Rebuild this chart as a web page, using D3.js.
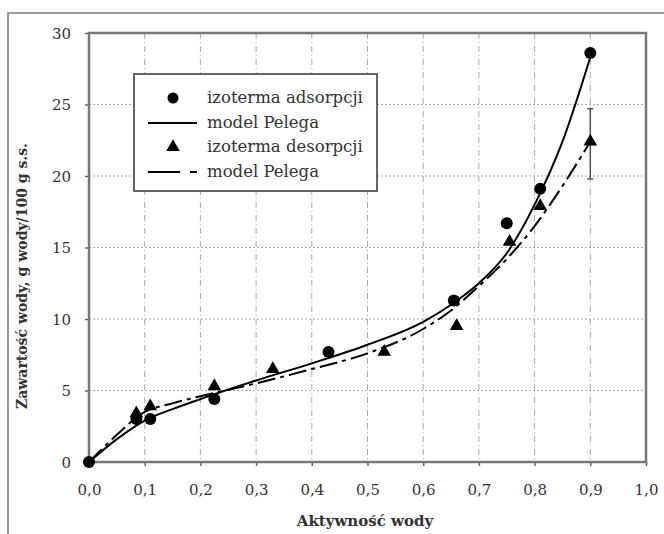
<!DOCTYPE html>
<html>
<head>
<meta charset="utf-8">
<script src="https://cdn.jsdelivr.net/npm/d3@7"></script>
<style>
  body { margin: 0; background: #fff; }
  svg { display: block; }
  text { font-family: "DejaVu Serif", "Liberation Serif", serif; fill: #333; }
</style>
</head>
<body>
<svg id="chart"></svg>
<script>
// punkty pomiarowe
let adsX = [0, 0.085, 0.11, 0.225, 0.43, 0.655, 0.75, 0.81, 0.9]
let adsY = [0, 3.0, 3.0, 4.4, 7.7, 11.3, 16.7, 19.1, 28.6]
let desX = [0.085, 0.11, 0.225, 0.33, 0.53, 0.66, 0.755, 0.81, 0.9]
let desY = [3.4, 3.9, 5.3, 6.5, 7.7, 9.5, 15.4, 17.9, 22.4]
let desErr = [19.8, 24.7] // slupek bledu dla 0,9
// model Pelega
let modelX = [0, 0.05, 0.1, 0.15, 0.2, 0.3, 0.4, 0.5, 0.6, 0.65, 0.7, 0.75, 0.8, 0.85, 0.9]
let adsModel = [0, 1.6, 2.9, 3.7, 4.4, 5.7, 6.9, 8.2, 9.8, 11.0, 12.5, 14.6, 18.0, 22.4, 28.3]
let desModel = [0, 1.9, 3.5, 4.1, 4.6, 5.5, 6.5, 7.6, 9.3, 10.6, 12.3, 14.2, 16.5, 19.3, 22.4]
let xTicks = [0, 0.1, 0.2, 0.3, 0.4, 0.5, 0.6, 0.7, 0.8, 0.9, 1.0]
let yTicks = [0, 5, 10, 15, 20, 25, 30]
let legendLabels = ['izoterma adsorpcji', 'model Pelega', 'izoterma desorpcji', 'model Pelega']

let width = 664
let height = 534
let svg = d3.select('#chart')
  .attr('width', width)
  .attr('height', height)

// ramka zewnetrzna
svg.append('path')
  .attr('d', `M8,${height} L8,13 L${width},13`)
  .attr('fill', 'none')
  .attr('stroke', '#777')
  .attr('stroke-width', 1.5)

let x = d3.scaleLinear().domain([0, 1]).range([89, 646])
let y = d3.scaleLinear().domain([0, 30]).range([462, 33])

// siatka
svg.append('g')
  .selectAll('line')
  .data(xTicks.slice(1, -1))
  .enter()
  .append('line')
  .attr('x1', (d) => x(d)).attr('x2', (d) => x(d))
  .attr('y1', y(30)).attr('y2', y(0))
  .attr('stroke', '#aaa')
  .attr('stroke-width', 1)
  .attr('stroke-dasharray', '6,3,1,3')
svg.append('g')
  .selectAll('line')
  .data(yTicks.slice(1, -1))
  .enter()
  .append('line')
  .attr('x1', x(0)).attr('x2', x(1))
  .attr('y1', (d) => y(d)).attr('y2', (d) => y(d))
  .attr('stroke', '#aaa')
  .attr('stroke-width', 1.2)
  .attr('stroke-dasharray', '2,2')

// osie
let xAxis = svg.append('g')
  .attr('transform', `translate(0,${y(0)})`)
  .call(d3.axisBottom(x).tickValues(xTicks).tickSize(4).tickPadding(14)
    .tickFormat((d) => d3.format('.1f')(d).replace('.', ',')))
let yAxis = svg.append('g')
  .attr('transform', `translate(${x(0)},0)`)
  .call(d3.axisLeft(y).tickValues(yTicks).tickSize(4).tickPadding(14))
for (let ax of [xAxis, yAxis]) {
  ax.select('.domain').remove()
  ax.selectAll('line').attr('stroke', '#666').attr('stroke-width', 1.5)
  ax.selectAll('text').attr('font-size', 15).attr('fill', '#444')
    .style('font-family', '"DejaVu Serif", serif')
}
xAxis.selectAll('text').attr('dy', '1em')
yAxis.selectAll('text').attr('dy', '0.35em')

// ramka wykresu
svg.append('rect')
  .attr('x', x(0)).attr('y', y(30))
  .attr('width', x(1) - x(0)).attr('height', y(0) - y(30))
  .attr('fill', 'none')
  .attr('stroke', '#777')
  .attr('stroke-width', 2.5)

// krzywe modelu
let line = d3.line()
  .x((d) => x(d[0]))
  .y((d) => y(d[1]))
  .curve(d3.curveMonotoneX)
svg.append('path')
  .datum(d3.zip(modelX, adsModel))
  .attr('d', line)
  .attr('fill', 'none')
  .attr('stroke', '#000')
  .attr('stroke-width', 2)
svg.append('path')
  .datum(d3.zip(modelX, desModel))
  .attr('d', line)
  .attr('fill', 'none')
  .attr('stroke', '#000')
  .attr('stroke-width', 2)
  .attr('stroke-dasharray', '18,5,4,5')

// slupek bledu
let gErr = svg.append('g').attr('stroke', '#555').attr('stroke-width', 1.5)
gErr.append('line')
  .attr('x1', x(0.9)).attr('x2', x(0.9))
  .attr('y1', y(desErr[0])).attr('y2', y(desErr[1]))
gErr.selectAll('.cap')
  .data(desErr)
  .enter()
  .append('line')
  .attr('x1', x(0.9) - 3).attr('x2', x(0.9) + 3)
  .attr('y1', (d) => y(d)).attr('y2', (d) => y(d))

// punkty
svg.append('g')
  .selectAll('circle')
  .data(d3.zip(adsX, adsY))
  .enter()
  .append('circle')
  .attr('cx', (d) => x(d[0]))
  .attr('cy', (d) => y(d[1]))
  .attr('r', 6)
  .attr('fill', '#000')
let tri = d3.symbol().type(d3.symbolTriangle).size(80)
svg.append('g')
  .selectAll('path')
  .data(d3.zip(desX, desY))
  .enter()
  .append('path')
  .attr('transform', (d) => `translate(${x(d[0])},${y(d[1])})`)
  .attr('d', tri)
  .attr('fill', '#000')

// legenda
let lg = svg.append('g')
lg.append('rect')
  .attr('x', 134).attr('y', 74)
  .attr('width', 243).attr('height', 117)
  .attr('fill', '#fff')
  .attr('stroke', '#666')
  .attr('stroke-width', 2)
let rowY = [98, 123, 147, 172]
lg.append('circle').attr('cx', 173).attr('cy', rowY[0]).attr('r', 5.5).attr('fill', '#000')
lg.append('line').attr('x1', 148).attr('x2', 197).attr('y1', rowY[1]).attr('y2', rowY[1])
  .attr('stroke', '#000').attr('stroke-width', 2)
lg.append('path').attr('transform', `translate(173,${rowY[2]})`).attr('d', tri).attr('fill', '#000')
lg.append('line').attr('x1', 148).attr('x2', 197).attr('y1', rowY[3]).attr('y2', rowY[3])
  .attr('stroke', '#000').attr('stroke-width', 2).attr('stroke-dasharray', '32,10,7,10')
lg.selectAll('text')
  .data(legendLabels)
  .enter()
  .append('text')
  .attr('x', 207)
  .attr('y', (d, i) => rowY[i])
  .attr('dy', '0.32em')
  .attr('font-size', 16.5)
  .attr('fill', '#222')
  .text((d) => d)

// tytuly osi
svg.append('text')
  .attr('x', 365).attr('y', 526)
  .attr('text-anchor', 'middle')
  .attr('font-size', 15)
  .attr('font-weight', 'bold')
  .attr('fill', '#333')
  .text('Aktywność wody')
svg.append('text')
  .attr('transform', 'translate(27,276) rotate(-90)')
  .attr('text-anchor', 'middle')
  .attr('font-size', 14)
  .attr('font-weight', 'bold')
  .attr('fill', '#333')
  .text('Zawartość wody, g wody/100 g s.s.')
</script>
</body>
</html>
